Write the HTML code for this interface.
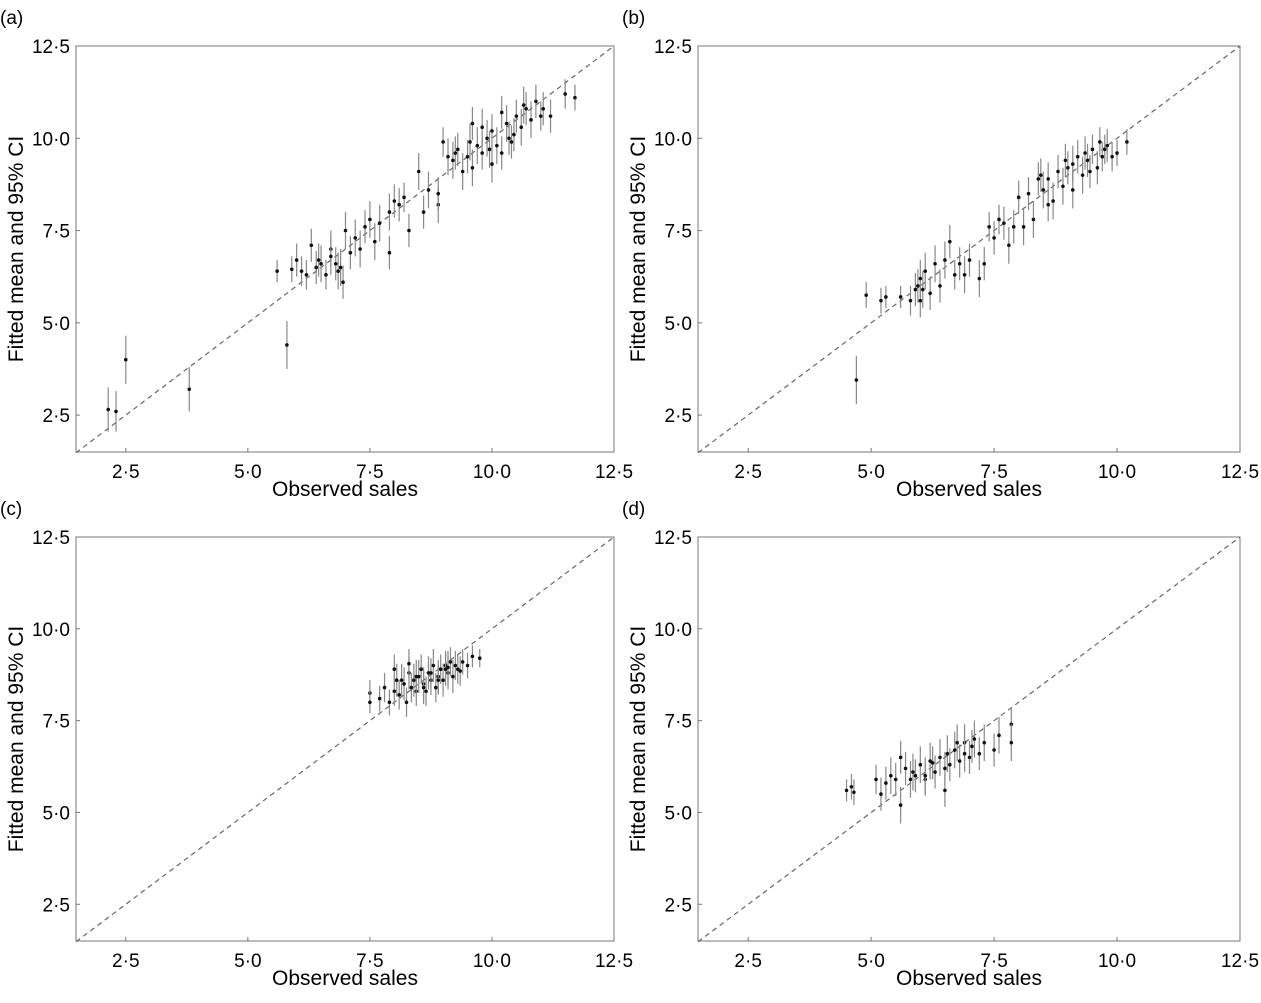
<!DOCTYPE html>
<html><head><meta charset="utf-8"><style>
body{margin:0;background:#fff}
svg text{font-family:"Liberation Sans",Arial,sans-serif;fill:#000}
</style></head><body>
<svg id="fig" width="1261" height="998" xmlns="http://www.w3.org/2000/svg"></svg>
<script>
const ticks=[2.5,5,7.5,10,12.5];
const tickLabels=["2·5","5·0","7·5","10·0","12·5"];
const aX=[2.14,2.3,2.5,3.8,5.8,5.6,5.9,6.1,6.2,6.3,6.4,6.5,6.6,6.7,6.8,6.9,6.95,7.0,7.1,7.2,7.3,7.4,7.5,7.7,7.9,7.9,8.0,8.2,8.3,8.5,8.6,8.7,8.9,8.9,9.0,9.1,9.2,9.3,9.4,9.5,9.6,9.6,9.7,9.8,9.9,10.0,10.0,10.1,10.2,10.3,10.4,10.5,10.6,10.7,10.8,10.9,11.0,11.2,11.5,11.7,9.8,10.2,8.1,7.6,6.0,6.7,6.45,6.85,9.25,9.55,10.45,10.65,11.05,9.95,10.35];
const aY=[2.65,2.6,4.0,3.2,4.4,6.4,6.45,6.4,6.3,7.1,6.5,6.6,6.3,7.0,6.6,6.5,6.1,7.5,6.9,7.3,7.0,7.6,7.8,7.7,6.9,8.0,8.3,8.4,7.5,9.1,8.0,8.6,8.2,8.5,9.9,9.5,9.4,9.7,9.1,9.5,9.2,10.4,9.8,9.6,10.0,9.3,10.2,9.8,9.6,10.4,9.9,10.6,10.3,10.8,10.5,11.0,10.6,10.6,11.2,11.1,10.3,10.7,8.2,7.2,6.7,6.8,6.7,6.4,9.6,9.9,10.1,10.9,10.8,9.7,10.0];
const aCI=[0.6,0.55,0.65,0.6,0.65,0.3,0.35,0.4,0.4,0.45,0.45,0.5,0.4,0.5,0.45,0.5,0.45,0.5,0.45,0.5,0.5,0.45,0.5,0.5,0.45,0.5,0.45,0.4,0.45,0.5,0.45,0.5,0.5,0.45,0.4,0.5,0.5,0.45,0.5,0.45,0.5,0.45,0.5,0.45,0.5,0.5,0.45,0.5,0.45,0.5,0.45,0.45,0.5,0.45,0.5,0.45,0.4,0.45,0.4,0.35,0.5,0.45,0.45,0.5,0.45,0.5,0.45,0.5,0.45,0.5,0.45,0.5,0.45,0.5,0.45];
const bX=[4.7,4.9,5.2,5.3,5.6,5.8,5.9,6.0,6.0,6.1,6.2,6.3,6.4,6.5,6.6,6.7,6.8,6.9,7.0,7.2,7.3,7.4,7.5,7.6,7.7,7.8,7.9,8.0,8.1,8.2,8.3,8.4,8.5,8.6,8.7,8.8,8.9,9.0,9.1,9.2,9.3,9.4,9.5,9.6,9.7,9.8,9.9,10.0,10.2,9.1,8.6,9.45,5.95,6.05,8.95,9.35,9.75,9.65,8.45];
const bY=[3.45,5.75,5.6,5.7,5.7,5.6,5.9,6.2,5.6,6.4,5.8,6.6,6.0,6.7,7.2,6.3,6.6,6.3,6.7,6.2,6.6,7.6,7.3,7.8,7.7,7.1,7.6,8.4,7.6,8.5,7.8,8.9,8.6,8.9,8.3,9.1,8.7,9.2,8.6,9.5,9.0,9.4,9.7,9.2,9.5,9.8,9.5,9.6,9.9,9.3,8.2,9.1,6.0,5.9,9.4,9.6,9.7,9.9,9.0];
const bCI=[0.65,0.35,0.35,0.3,0.3,0.4,0.45,0.5,0.45,0.5,0.45,0.5,0.45,0.5,0.45,0.4,0.45,0.5,0.45,0.5,0.45,0.4,0.45,0.4,0.45,0.5,0.45,0.45,0.5,0.45,0.5,0.45,0.5,0.45,0.5,0.45,0.5,0.45,0.5,0.45,0.5,0.45,0.4,0.45,0.4,0.45,0.4,0.35,0.35,0.5,0.45,0.45,0.45,0.5,0.45,0.45,0.4,0.4,0.45];
const cX=[7.5,7.5,7.7,7.8,7.9,8.0,8.05,8.1,8.2,8.25,8.3,8.35,8.4,8.45,8.5,8.55,8.6,8.65,8.7,8.75,8.8,8.85,8.9,8.95,9.0,9.05,9.1,9.15,9.2,9.25,9.3,9.4,9.5,9.6,9.75,8.3,8.6,8.9,9.1,8.0,8.45,8.75,9.05,9.35,8.15];
const cY=[8.25,8.0,8.1,8.4,8.0,8.3,8.6,8.2,8.5,8.0,8.8,8.4,8.6,8.3,8.7,8.9,8.5,8.3,8.8,8.6,9.0,8.4,8.7,8.9,8.6,9.0,8.8,9.1,8.7,9.0,8.9,9.1,9.0,9.25,9.2,9.05,8.4,8.6,8.95,8.9,8.7,8.8,8.9,8.85,8.6];
const cCI=[0.35,0.3,0.35,0.4,0.35,0.4,0.45,0.4,0.45,0.4,0.45,0.4,0.45,0.4,0.45,0.4,0.45,0.4,0.45,0.4,0.45,0.4,0.45,0.4,0.45,0.4,0.45,0.4,0.45,0.4,0.4,0.35,0.35,0.3,0.25,0.4,0.45,0.4,0.45,0.4,0.45,0.4,0.45,0.4,0.45];
const dX=[4.5,4.6,4.65,5.1,5.2,5.3,5.4,5.5,5.6,5.7,5.8,5.9,6.0,6.1,6.2,6.3,6.4,6.5,6.55,6.6,6.7,6.8,6.9,7.0,7.1,7.2,7.3,7.5,7.6,7.85,7.85,5.6,6.1,6.5,6.9,6.25,6.75,7.05,5.85];
const dY=[5.6,5.7,5.55,5.9,5.5,5.8,6.0,5.9,5.2,6.2,5.9,6.0,6.3,5.9,6.4,6.1,6.5,5.6,6.6,6.3,6.7,6.4,6.9,6.5,7.0,6.6,6.9,6.7,7.1,7.4,6.9,6.5,6.0,6.2,6.6,6.35,6.9,6.8,6.1];
const dCI=[0.3,0.35,0.35,0.4,0.45,0.45,0.5,0.45,0.5,0.45,0.5,0.45,0.5,0.45,0.5,0.45,0.5,0.45,0.5,0.45,0.5,0.45,0.5,0.45,0.5,0.45,0.5,0.45,0.5,0.45,0.5,0.45,0.5,0.45,0.5,0.45,0.5,0.45,0.5];

const NS="http://www.w3.org/2000/svg";
const svg=document.getElementById('fig');
function mk(tag,attrs,parent){const e=document.createElementNS(NS,tag);for(const k in attrs)e.setAttribute(k,attrs[k]);(parent||svg).appendChild(e);return e;}
const panels=[
 {name:'a',L:76,R:614,T:46,B:452,xs:aX,ys:aY,ci:aCI},
 {name:'b',L:698,R:1240,T:46,B:452,xs:bX,ys:bY,ci:bCI},
 {name:'c',L:76,R:614,T:537,B:941,xs:cX,ys:cY,ci:cCI},
 {name:'d',L:698,R:1240,T:537,B:941,xs:dX,ys:dY,ci:dCI}];
panels.forEach(p=>{
 const g=mk('g',{});
 
 
 const x0=1.48,x1=12.5,y0=1.5,y1=12.5;
 const sx=v=>p.L+(v-x0)/(x1-x0)*(p.R-p.L);
 const sy=v=>p.B-(v-y0)/(y1-y0)*(p.B-p.T);
 const fr=mk('rect',{x:p.L,y:p.T,width:p.R-p.L,height:p.B-p.T,fill:'none',stroke:'#777','stroke-width':1},g);
 
 
 const dl=mk('line',{x1:sx(x0),y1:sy(x0),x2:sx(12.5),y2:sy(12.5),stroke:'#666','stroke-width':1.2,'stroke-dasharray':'5,4'},g);
 
 
 ticks.forEach((t,i)=>{
  mk('line',{x1:sx(t),x2:sx(t),y1:p.B,y2:p.B-4,stroke:'#777'},g);
  mk('line',{x1:p.L,x2:p.L+4,y1:sy(t),y2:sy(t),stroke:'#777'},g);
  const xt=mk('text',{x:sx(t),y:p.B+26,'font-size':19,'text-anchor':'middle'},g);xt.textContent=tickLabels[i];
  
  
  const yt=mk('text',{x:p.L-6,y:sy(t)+7,'font-size':19,'text-anchor':'end'},g);yt.textContent=tickLabels[i];
  
  
 });
 const xa=mk('text',{x:(p.L+p.R)/2,y:p.B+44,'font-size':21,'text-anchor':'middle'},g);xa.textContent='Observed sales';
 
 
 const cy=(p.T+p.B)/2,cx=p.L-53;
 const ya=mk('text',{x:cx,y:cy,'font-size':21,'text-anchor':'middle',transform:`rotate(-90 ${cx} ${cy})`},g);ya.textContent='Fitted mean and 95% CI';
 
 
 const pl=mk('text',{x:p.L-76,y:p.T-22,'font-size':19},g);pl.textContent='('+p.name+')';
 
 
 p.xs.forEach((xv,i)=>{
  const yv=p.ys[i],h=p.ci[i];
  const e=mk('line',{x1:sx(xv),x2:sx(xv),y1:sy(yv-h),y2:sy(yv+h),stroke:'#888','stroke-width':1.2},g);
  
  
  const c=mk('circle',{cx:sx(xv),cy:sy(yv),r:1.8,fill:'#111'},g);
  
  
 });
});
</script>
</body></html>
